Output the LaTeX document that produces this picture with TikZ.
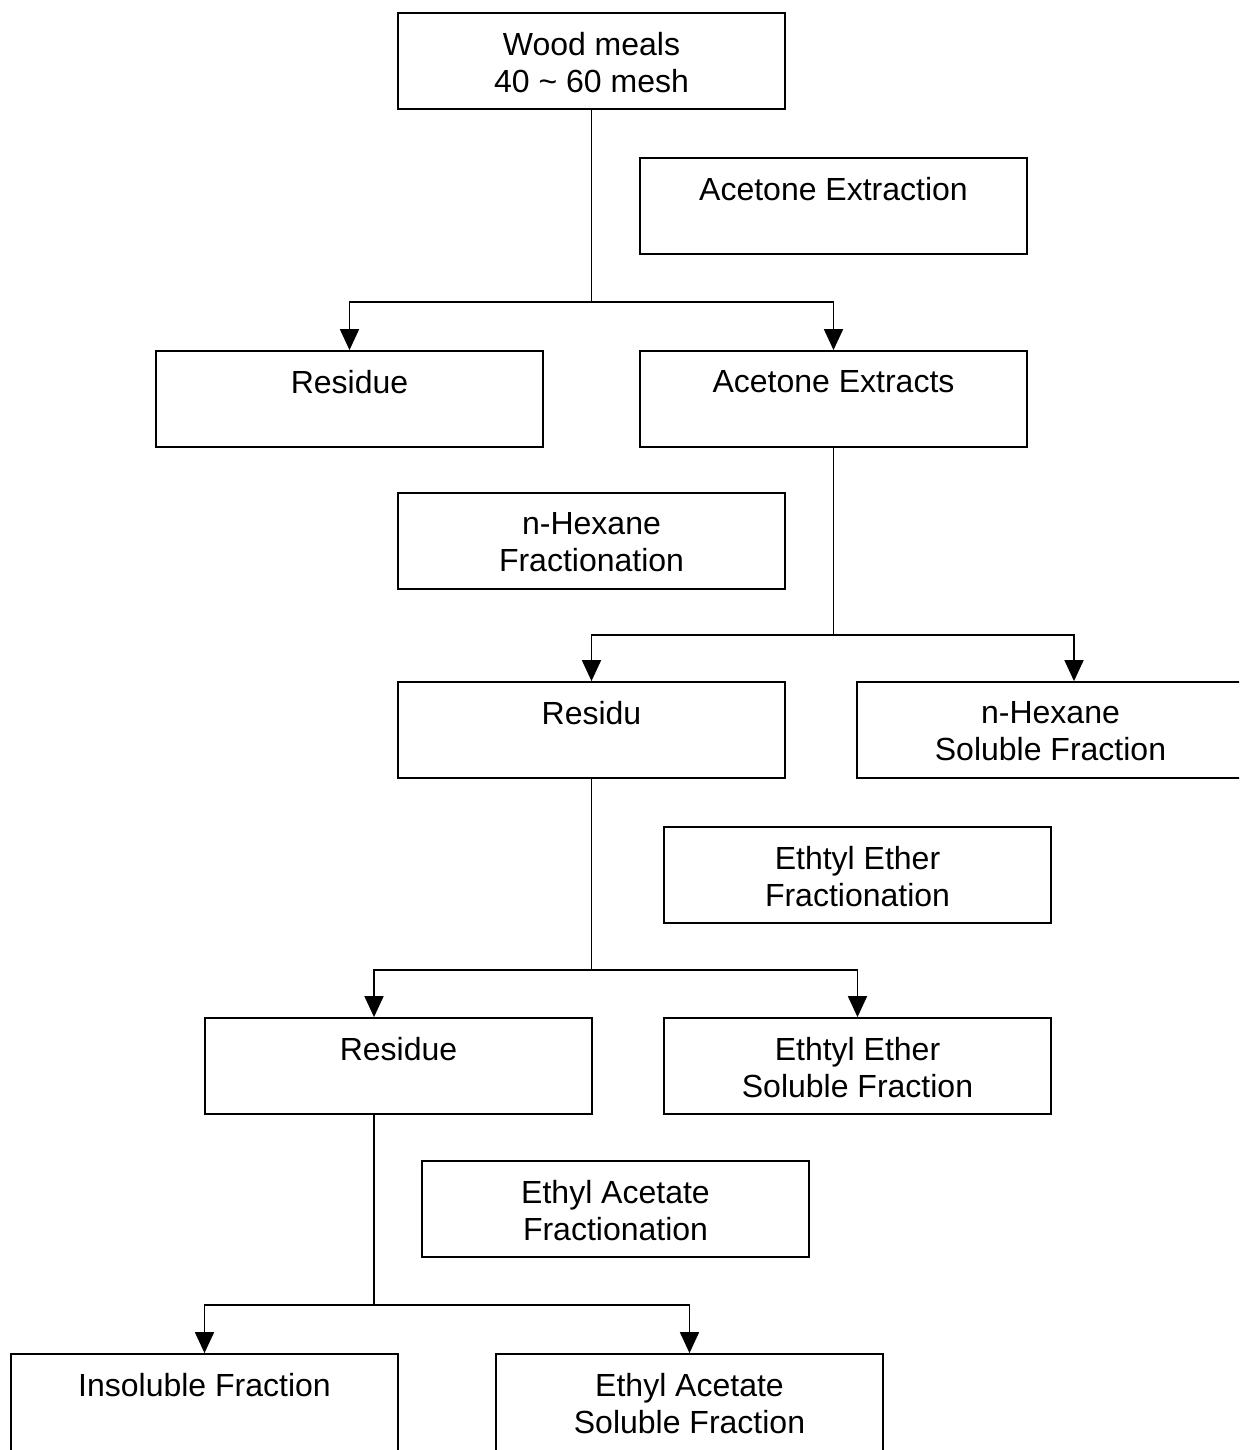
\documentclass[tikz,border=0pt]{standalone}
\usepackage{fontspec}
\setmainfont{Liberation Sans}
\usetikzlibrary{arrows.meta,calc}
\begin{document}
\begin{tikzpicture}[x=0.5pt,y=-0.5pt,
  box/.style={draw, line width=0.9pt, minimum width=193.5pt, minimum height=48pt, inner sep=0pt},
  cutbox/.style={box, minimum height=52pt},
  txt/.style={anchor=north, inner sep=0pt, align=center, font=\fontsize{16}{18.5}\selectfont},
  conn/.style={line width=0.9pt},
  arr/.style={line width=0.9pt, -{Triangle[length=10.5pt,width=9.5pt]}}]
\useasboundingbox (0,0) rectangle (1239,1450);
\clip (0,0) rectangle (1239,1450);
\node[box] (b1) at (591.5,61) {};
\node[txt] (t1) at ([yshift=-10pt]b1.north) {Wood meals\\40 \textasciitilde{} 60 mesh};
\node[box] (b2) at (833.5,206) {};
\node[txt] (t2) at ([yshift=-10pt]b2.north) {Acetone Extraction};
\node[box] (b3) at (349.5,399) {};
\node[txt] (t3) at ([yshift=-10pt]b3.north) {Residue};
\node[box] (b4) at (833.5,399) {};
\node[txt] (t4) at ([yshift=-10pt]b4.north) {Acetone Extracts};
\node[box] (b5) at (591.5,541) {};
\node[txt] (t5) at ([yshift=-10pt]b5.north) {n-Hexane\\Fractionation};
\node[box] (b6) at (591.5,730) {};
\node[txt] (t6) at ([yshift=-10pt]b6.north) {Residu};
\node[box] (b7) at (1050.5,730) {};
\node[txt] (t7) at ([yshift=-10pt]b7.north) {n-Hexane\\Soluble Fraction};
\node[box] (b8) at (857.5,875) {};
\node[txt] (t8) at ([yshift=-10pt]b8.north) {Ethtyl Ether\\Fractionation};
\node[box] (b9) at (398.5,1066) {};
\node[txt] (t9) at ([yshift=-10pt]b9.north) {Residue};
\node[box] (b10) at (857.5,1066) {};
\node[txt] (t10) at ([yshift=-10pt]b10.north) {Ethtyl Ether\\Soluble Fraction};
\node[box] (b11) at (615.5,1209) {};
\node[txt] (t11) at ([yshift=-10pt]b11.north) {Ethyl Acetate\\Fractionation};
\node[cutbox] (b12) at (204.5,1406) {};
\node[txt] (t12) at ([yshift=-10pt]b12.north) {Insoluble Fraction};
\node[cutbox] (b13) at (689.5,1406) {};
\node[txt] (t13) at ([yshift=-10pt]b13.north) {Ethyl Acetate\\Soluble Fraction};
\coordinate (j1) at (591.5,302);
\coordinate (j2) at (833.5,635);
\coordinate (j3) at (591.5,970);
\coordinate (j4) at (374,1305);
\draw[conn] (b1.south) -- (j1);
\draw[arr] (j1) -| (b3.north);
\draw[arr] (j1) -| (b4.north);
\draw[conn] (b4.south) -- (j2);
\draw[arr] (j2) -| (b6.north);
\draw[arr] (j2) -| ([xshift=11.75pt]b7.north);
\draw[conn] (b6.south) -- (j3);
\draw[arr] (j3) -| ([xshift=-12.25pt]b9.north);
\draw[arr] (j3) -| (b10.north);
\draw[conn] ([xshift=-12.25pt]b9.south) -- (j4);
\draw[arr] (j4) -| (b12.north);
\draw[arr] (j4) -| (b13.north);
\end{tikzpicture}
\end{document}
